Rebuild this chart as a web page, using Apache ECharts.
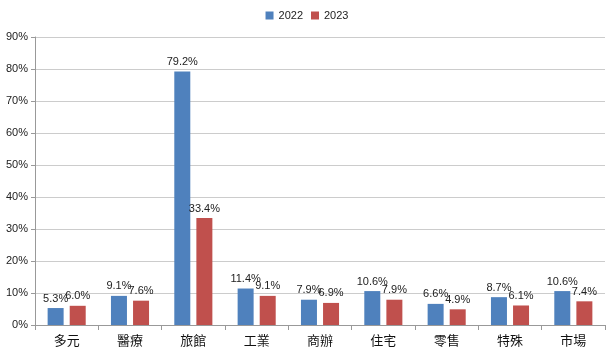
<!DOCTYPE html>
<html><head><meta charset="utf-8">
<script src="https://cdn.jsdelivr.net/npm/echarts@6/dist/echarts.min.js"></script>
<style>html,body{margin:0;padding:0;background:#fff}#c{width:614px;height:356px}</style>
</head><body><div id="c"></div>
<script>
const categories = ['多元','醫療','旅館','工業','商辦','住宅','零售','特殊','市場'];
const s2022 = [5.3, 9.1, 79.2, 11.4, 7.9, 10.6, 6.6, 8.7, 10.6];
const s2023 = [6.0, 7.6, 33.4, 9.1, 6.9, 7.9, 4.9, 6.1, 7.4];
const seriesNames = ['2022', '2023'];
const chart = echarts.init(document.getElementById('c'));
const lbl = {show:true, position:'top', distance:4, color:'#222', fontSize:11, fontFamily:'Liberation Sans, Arial, sans-serif', formatter: p => p.value.toFixed(1) + '%'};
chart.setOption({
  animation:false,
  legend:{top:5, left:'center', itemWidth:8, itemHeight:8, itemGap:8, icon:'rect',
    textStyle:{fontSize:11, color:'#222', fontFamily:'Liberation Sans, Arial, sans-serif'}, data:seriesNames},
  grid:{left:35, right:9, top:37, bottom:31},
  xAxis:{type:'category', data:categories,
    axisLine:{lineStyle:{color:'#999'}},
    axisTick:{show:true, length:5, lineStyle:{color:'#999'}},
    axisLabel:{color:'#111', fontSize:13, margin:9, fontFamily:'Noto Sans CJK TC'}},
  yAxis:{type:'value', min:0, max:90, interval:10,
    axisLine:{show:true, lineStyle:{color:'#999'}},
    axisTick:{show:true, length:4, lineStyle:{color:'#999'}},
    splitLine:{lineStyle:{color:'#ccc'}},
    axisLabel:{color:'#222', fontSize:11, margin:7, formatter:'{value}%', fontFamily:'Liberation Sans, Arial, sans-serif'}},
  series:[
    {name:seriesNames[0], type:'bar', data:s2022, barWidth:16, barGap:'38%', itemStyle:{color:'#4F81BD'}, label:lbl},
    {name:seriesNames[1], type:'bar', data:s2023, barWidth:16, itemStyle:{color:'#C0504D'}, label:lbl}
  ]
});
</script></body></html>
